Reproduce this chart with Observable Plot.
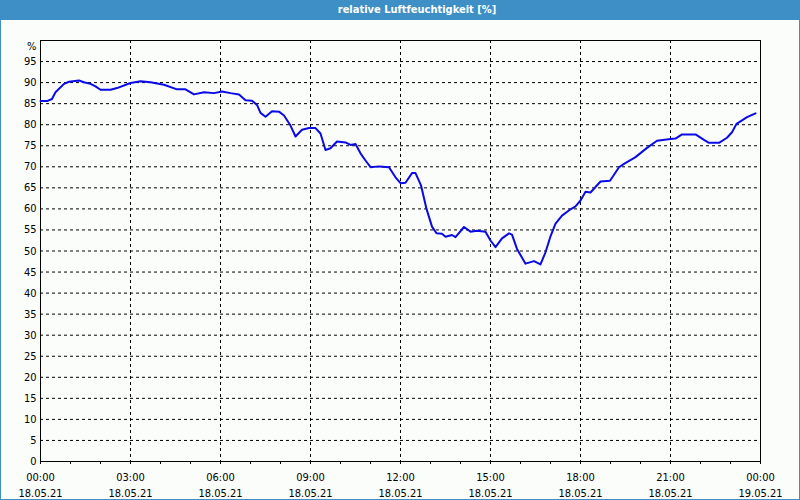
<!DOCTYPE html>
<html>
<head>
<meta charset="utf-8">
<script src="https://cdn.jsdelivr.net/npm/d3@7"></script>
<script src="https://cdn.jsdelivr.net/npm/@observablehq/plot@0.6"></script>
<style>
  html, body { margin: 0; padding: 0; background: #fbfdfb; }
  #wrap { position: relative; width: 800px; height: 500px; overflow: hidden; background: #fbfdfb; font-family: "DejaVu Sans Condensed", "DejaVu Sans", sans-serif; }
  #title { position: absolute; left: 0; top: 0; width: 800px; height: 20px; background: #3d8fc6; color: #fff; font-weight: bold; font-size: 11px; line-height: 20px; text-align: center; }
  #title span { position: relative; left: 17px; }
  #chart { position: absolute; left: 0; top: 20px; }
  #border { position: absolute; left: 0; top: 0; width: 800px; height: 500px; box-sizing: border-box; border: 1px solid #3d8fc6; pointer-events: none; }
</style>
</head>
<body>
<div id="wrap">
  <div id="title"><span>relative Luftfeuchtigkeit [%]</span></div>
  <div id="chart"></div>
  <div id="border"></div>
</div>
<script>
const day = "2021-05-18";
const times = ["00:00","00:13","00:23","00:30","00:47","00:57","01:17","01:27","01:40","01:50","02:00","02:20","02:33",
  "03:00","03:20","03:40","04:07","04:33","04:50","05:07","05:27","05:47","06:03","06:20","06:37","06:50",
  "07:03","07:13","07:20","07:30","07:43","07:57","08:07","08:20","08:30","08:43","08:57",
  "09:10","09:20","09:30","09:40","09:53","10:10","10:20","10:30","10:40","10:50","11:00","11:17","11:37","11:50",
  "12:00","12:10","12:23","12:30","12:41","12:52","13:03","13:12","13:23","13:30","13:43","13:50",
  "14:07","14:20","14:33","14:50","15:00","15:10","15:23","15:37","15:43","15:53",
  "16:10","16:27","16:40","16:50","17:00","17:10","17:23","17:40","17:50",
  "18:00","18:10","18:20","18:40","18:59","19:17","19:27","19:50",
  "20:13","20:33","21:00","21:10","21:23","21:50","22:07","22:17","22:37","22:53",
  "23:03","23:12","23:20","23:33","23:50"];
const humidity = [85.6,85.6,86.1,87.7,89.7,90.2,90.5,90.1,89.7,89.1,88.3,88.3,88.7,
  89.9,90.3,90.1,89.5,88.4,88.4,87.2,87.7,87.5,87.9,87.5,87.2,85.8,
  85.7,84.7,82.8,81.9,83.2,83.1,82.2,79.8,77.2,78.8,79.2,
  79.2,77.9,74.0,74.4,76.0,75.8,75.2,75.4,73.2,71.5,69.9,70.1,69.9,67.5,
  66.1,66.2,68.5,68.5,65.6,60.0,55.8,54.2,54.1,53.4,53.8,53.3,
  55.7,54.6,54.8,54.6,52.5,50.9,53.0,54.2,53.9,50.5,
  47.0,47.6,46.8,49.7,53.5,56.5,58.4,59.9,60.6,
  62.0,64.1,63.9,66.5,66.7,69.9,70.7,72.3,
  74.5,76.2,76.6,76.7,77.7,77.7,76.4,75.7,75.7,76.9,
  78.2,80.2,80.8,81.8,82.7];
const yTicks = [0,5,10,15,20,25,30,35,40,45,50,55,60,65,70,75,80,85,90,95];
const yUnit = "%";
const xStart = new Date("2021-05-18T00:00:00Z");
const xEnd = new Date("2021-05-19T00:00:00Z");

const data = times.map((t, i) => ({ t: new Date(`${day}T${t}:00Z`), v: humidity[i] }));
const majorTicks = d3.utcHour.every(3).range(xStart, new Date(+xEnd + 1));
const minorTicks = d3.utcHour.every(1).range(xStart, new Date(+xEnd + 1));
const fmtTime = d3.utcFormat("%H:%M");
const fmtDate = d3.utcFormat("%d.%m.%y");
const gridTicks = majorTicks.filter(d => +d !== +xStart && +d !== +xEnd);

const chart = Plot.plot({
  width: 800,
  height: 480,
  marginLeft: 40,
  marginRight: 40,
  marginTop: 20,
  marginBottom: 39,
  style: { background: "transparent", fontFamily: "'DejaVu Sans Condensed', 'DejaVu Sans', sans-serif", fontSize: "11px", color: "#000" },
  x: { type: "utc", domain: [xStart, xEnd] },
  y: { domain: [0, 100] },
  marks: [
    Plot.gridY(yTicks.filter(d => d > 0), { stroke: "#000", strokeOpacity: 1, strokeDasharray: "3,3" }),
    Plot.gridX(gridTicks, { stroke: "#000", strokeOpacity: 1, strokeDasharray: "3,3" }),
    Plot.axisY(yTicks, { tickSize: 0, tickPadding: 4, label: null, fill: "#000", fontSize: 11 }),
    Plot.axisY([100], { tickSize: 0, tickPadding: 4, label: null, tickFormat: () => yUnit, dy: 6, fill: "#000", fontSize: 11 }),
    Plot.axisX(minorTicks, { tickSize: 3, tickFormat: () => "", label: null, stroke: "#000" }),
    Plot.axisX(majorTicks, { tickSize: 0, tickPadding: 9, label: null, fill: "#000", fontSize: 11, lineHeight: 1.4,
      tickFormat: d => fmtTime(d) + "\n" + fmtDate(d) }),
    Plot.frame({ stroke: "#000", strokeWidth: 1 }),
    Plot.line(data, { x: "t", y: "v", stroke: "#0a0ae6", strokeWidth: 2 })
  ]
});
document.getElementById("chart").appendChild(chart);
</script>
</body>
</html>
